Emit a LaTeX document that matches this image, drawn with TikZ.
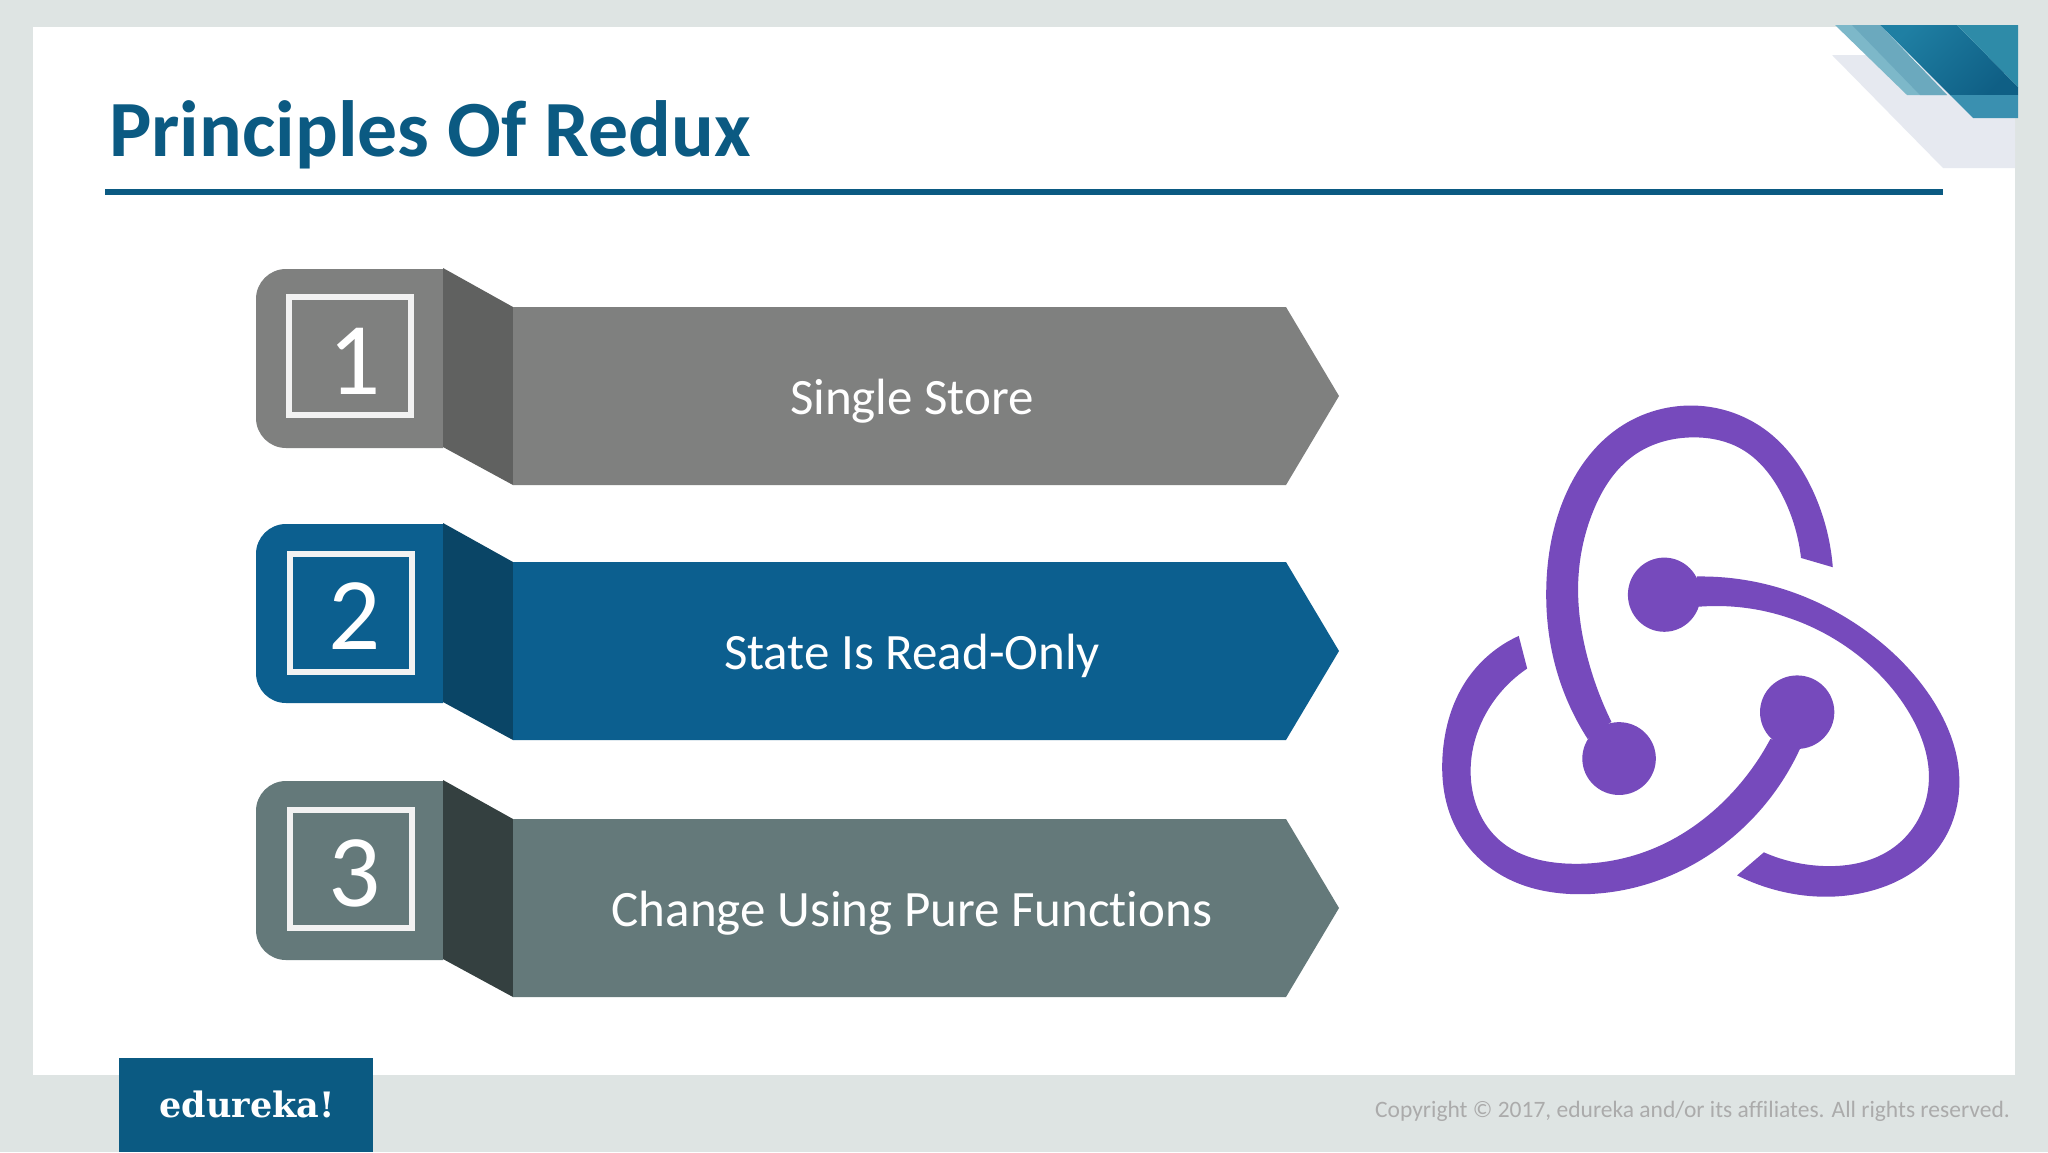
\documentclass[tikz,border=0pt]{standalone}
\usepackage{fontspec}
\usetikzlibrary{hobby}
\setmainfont{Carlito}[Ligatures=NoCommon]
\newfontfamily\logofont{DejaVu Serif}
\definecolor{pagebg}{HTML}{DEE4E3}
\definecolor{navy}{HTML}{0B5A82}
\definecolor{rowa}{HTML}{7F807F}
\definecolor{folda}{HTML}{606160}
\definecolor{rowb}{HTML}{0C5F8F}
\definecolor{foldb}{HTML}{0A4566}
\definecolor{rowc}{HTML}{64797A}
\definecolor{foldc}{HTML}{344040}
\definecolor{framec}{HTML}{F2F2F2}
\definecolor{reduxv}{HTML}{764ABC}
\definecolor{cgrey}{HTML}{E6E9F0}
\definecolor{ctla}{HTML}{7DB8C9}
\definecolor{ctlb}{HTML}{5F9FB8}
\definecolor{ctda}{HTML}{1F7FA3}
\definecolor{ctdb}{HTML}{0F5F85}
\definecolor{ctra}{HTML}{2E8BA8}
\definecolor{ctbt}{HTML}{3A90B0}
\definecolor{copyc}{HTML}{ABABAB}
\tikzset{
  rowlabel/.style={text=white,anchor=base,inner sep=0pt,font=\fontsize{51}{55}\selectfont},
  digit/.style={text=white,anchor=base,inner sep=0pt,font=\fontsize{103}{110}\selectfont},
  framebox/.style={draw=framec,line width=6.5pt,line join=miter},
  logopart/.style={fill=reduxv,use Hobby shortcut}
}
\begin{document}
\begin{tikzpicture}[x=1pt,y=-1pt]
\useasboundingbox (0,0) rectangle (2048,1152);
\fill[pagebg] (0,0) rectangle (2048,1152);
\fill[white] (33,27) rectangle (2015,1075);
% corner decoration
\fill[cgrey] (1832,55) -- (1943,168) -- (2015,168) -- (2015,118) -- (1900,55) -- cycle;
\fill[ctla] (1835,25) -- (1907,95) -- (1947,95) -- (1880,25) -- cycle;
\fill[ctlb,opacity=.6] (1852,25) -- (1920,95) -- (1947,95) -- (1880,25) -- cycle;
\shade[left color=ctda,right color=ctdb,shading angle=45] (1880,25) -- (1950,95) -- (2018,95) -- (2018,87) -- (1957,25) -- cycle;
\fill[ctra] (1957,25) -- (2018,87) -- (2018,25) -- cycle;
\fill[ctbt] (1950,95) -- (1973,118) -- (2018,118) -- (2018,95) -- cycle;
% title
\node[anchor=base west,inner sep=0pt,text=navy,font=\fontsize{79.7}{84}\selectfont\bfseries] (title) at (109,156.5) {Principles Of Redux};
\fill[navy] (105,189) rectangle (1943,195);
% rows
\foreach \name/\off/\main/\fold/\txt/\num/\fy/\fx in {
  a/0/rowa/folda/Single Store/1/0/0,
  b/255/rowb/foldb/State Is Read-Only/2/2/1,
  c/512/rowc/foldc/Change Using Pure Functions/3/1/1}{
  \begin{scope}[yshift=-\off pt]
    \fill[\main] (443,269) [rounded corners=30pt] -- (256,269) -- (256,448) [sharp corners] -- (443,448) -- cycle;
    \fill[\fold] (443,268) -- (513,307) -- (513,485) -- (443,447) -- cycle;
    \fill[\main] (513,307) -- (1286,307) -- (1339,396) -- (1286,485) -- (513,485) -- cycle;
    \draw[framebox] (289+\fx,297+\fy) rectangle (411+\fx,415+\fy);
    \node[rowlabel] (label\name) at (912,414) {\txt};
    \node[digit] (digit\name) at (355,394) {\num};
  \end{scope}
}
% redux logo
\begin{scope}[shift={(1400,380)},x=0.383pt,y=-0.3435pt]
\fill[reduxv] (572,1102) ellipse[x radius=96,y radius=106];
\fill[reduxv] (690,625) ellipse[x radius=95,y radius=108];
\fill[reduxv] (1037,967) ellipse[x radius=97,y radius=107];
\path[logopart] (490,1045) .. (405,830) .. (382,600) .. (430,340) .. (570,140) .. (780,75) .. (960,150) .. (1085,340) .. (1130,545)
  -- (1047,518) .. (1000,340) .. (890,200) .. (770,167) .. (610,220) .. (505,380) .. (465,600) .. (490,810) .. (552,995) -- cycle;
\path[logopart] (775,572) .. (990,605) .. (1210,725) .. (1390,930) .. (1460,1150) .. (1400,1370) .. (1220,1490) .. (1000,1490) .. (880,1442)
  -- (950,1375) .. (1110,1415) .. (1290,1360) .. (1380,1180) .. (1330,970) .. (1170,780) .. (960,675) .. (780,660) -- cycle;
\path[logopart] (967,1045) .. (860,1210) .. (670,1360) .. (440,1408) .. (260,1340) .. (185,1160) .. (230,960) .. (332,840)
  -- (310,745) .. (170,880) .. (112,1080) .. (140,1290) .. (270,1445) .. (470,1497) .. (690,1450) .. (880,1320) .. (1045,1072) -- cycle;
\end{scope}
% footer
\fill[navy] (119,1058) rectangle (373,1152);
\node[anchor=base,inner sep=0pt,text=white,font=\logofont\bfseries\fontsize{35}{38}\selectfont] (logo) at (247,1117) {edureka!};
\node[anchor=base east,inner sep=0pt,text=copyc,font=\fontsize{23.5}{26}\selectfont] (copyright) at (2010,1117) {Copyright © 2017, edureka and/or its affiliates. All rights reserved.};
\end{tikzpicture}
\end{document}
